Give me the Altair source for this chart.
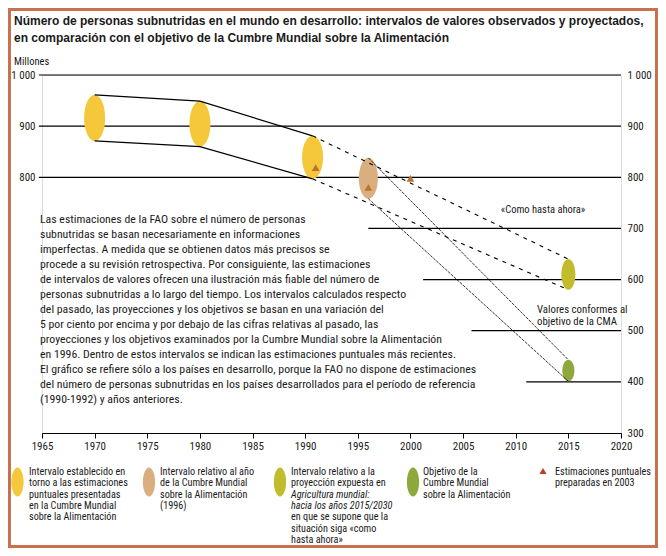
import altair as alt
import pandas as pd
import numpy as np

# ---------------- data ----------------
ELL_YEAR = [1970, 1980, 1990.7, 1996, 2015, 2015]
ELL_LOW = [871, 860, 797, 758, 580, 401]
ELL_HIGH = [961, 949, 881, 838, 640, 443]
ELL_KIND = ["wfs", "wfs", "wfs", "wfs1996", "proj", "target"]

TRI_YEAR = [1991, 1996, 2000]
TRI_VAL = [819, 780, 798]

GRID_VAL = [1000, 900, 800, 700, 600, 500, 400]
GRID_START = [1964.7, 1964.7, 1964.7, 1996, 2001.2, 2005.8, 2011]
GRID_END = [2020, 2020, 2020, 2020, 2020, 2020, 2020]

X_TICKS = list(range(1965, 2021, 5))
Y_LEFT_TICKS = [800, 900, 1000]
Y_RIGHT_TICKS = [300, 400, 500, 600, 700, 800, 900, 1000]

TITLE = ("Número de personas subnutridas en el mundo en desarrollo: intervalos de valores observados y proyectados,\n"
         "en comparación con el objetivo de la Cumbre Mundial sobre la Alimentación")
NOTE = "\n".join([
    "Las estimaciones de la FAO sobre el número de personas",
    "subnutridas se basan necesariamente en informaciones",
    "imperfectas. A medida que se obtienen datos más precisos se",
    "procede a su revisión retrospectiva. Por consiguiente, las estimaciones",
    "de intervalos de valores ofrecen una ilustración más fiable del número de",
    "personas subnutridas a lo largo del tiempo. Los intervalos calculados respecto",
    "del pasado, las proyecciones y los objetivos se basan en una variación del",
    "5 por ciento por encima y por debajo de las cifras relativas al pasado, las",
    "proyecciones y los objetivos examinados por la Cumbre Mundial sobre la Alimentación",
    "en 1996. Dentro de estos intervalos se indican las estimaciones puntuales más recientes.",
    "El gráfico se refiere sólo a los países en desarrollo, porque la FAO no dispone de estimaciones",
    "del número de personas subnutridas en los países desarrollados para el período de referencia",
    "(1990-1992) y años anteriores.",
])

LEGEND_KIND = ["wfs", "wfs1996", "proj", "target"]
LEGEND_TEXT = [
    "Intervalo establecido en\ntorno a las estimaciones\npuntuales presentadas\nen la Cumbre Mundial\nsobre la Alimentación",
    "Intervalo relativo al año\nde la Cumbre Mundial\nsobre la Alimentación\n(1996)",
    "Intervalo relativo a la\nproyección expuesta en",
    "Objetivo de la\nCumbre Mundial\nsobre la Alimentación",
]
LEGEND_PROJ_ITALIC = "Agricultura mundial:\nhacia los años 2015/2030"
LEGEND_PROJ_TAIL = "en que se supone que la\nsituación siga «como\nhasta ahora»"
LEGEND_TRI_TEXT = "Estimaciones puntuales\npreparadas en 2003"

# ---------------- styles ----------------
FONT = "'Liberation Sans Narrow', 'Roboto Condensed', 'Liberation Sans', sans-serif"
TITLE_FONT = "'Liberation Sans', Arial, sans-serif"
TXT = "#1a1a1a"
KIND_COLORS = {"wfs": "#f5c83c", "wfs1996": "#dbae80", "proj": "#c1bc2b", "target": "#8fa83b"}
HALF_W_PX = {"wfs": 10.5, "wfs1996": 9.5, "proj": 7, "target": 6}
TRI_COLOR = "#b9722f"
LEG_TRI_COLOR = "#c0392b"
FRAME = "#c8714f"

TOTAL_W, TOTAL_H = 650, 540
W, H = 579, 358
OX, OY = 42, 75  # plot origin in page px
PX_PER_YEAR = W / 55

xscale = alt.Scale(domain=[1965, 2020], nice=False, zero=False)
yscale = alt.Scale(domain=[300, 1000], nice=False, zero=False)
xaxis = alt.Axis(values=X_TICKS, format="d", tickSize=5, tickColor="black", domainColor="black",
                 domainWidth=1.2, tickWidth=1, grid=False, labelFont=FONT, labelFontSize=11,
                 labelColor=TXT, labelPadding=2, labelFlush=False, title=None, orient="bottom")
yaxis_left = alt.Axis(orient="left", values=Y_LEFT_TICKS,
                      labelExpr="datum.value >= 1000 ? '1 000' : datum.label",
                      ticks=False, domain=False, grid=False, labelPadding=7, title=None,
                      labelFont=FONT, labelFontSize=11, labelColor=TXT)
yaxis_right = alt.Axis(orient="right", values=Y_RIGHT_TICKS,
                       labelExpr="datum.value >= 1000 ? '1 000' : datum.label",
                       ticks=False, domain=False, grid=False, labelPadding=6, title=None,
                       labelFont=FONT, labelFontSize=11, labelColor=TXT)

color_scale = alt.Scale(domain=list(KIND_COLORS.keys()), range=list(KIND_COLORS.values()))

# grid rules
grid_df = pd.DataFrame({"val": GRID_VAL, "x0": GRID_START, "x1": GRID_END})
grid = alt.Chart(grid_df).mark_rule(color="black", strokeWidth=1.2).encode(
    x=alt.X("x0:Q", scale=xscale, axis=xaxis),
    x2="x1:Q",
    y=alt.Y("val:Q", scale=yscale, axis=yaxis_left),
)

# ellipses
rows = []
for i, (yr, lo, hi, k) in enumerate(zip(ELL_YEAR, ELL_LOW, ELL_HIGH, ELL_KIND)):
    rx = HALF_W_PX[k] / PX_PER_YEAR
    mid, hh = (lo + hi) / 2, (hi - lo) / 2
    for phi in np.linspace(-np.pi / 2, np.pi / 2, 61):
        rows.append({"id": i, "kind": k, "ex": yr + rx * np.sin(phi),
                     "ey": mid + hh * np.cos(phi), "ey2": mid - hh * np.cos(phi)})
ell_df = pd.DataFrame(rows)
ell = alt.Chart(ell_df).mark_area(opacity=1).encode(
    x=alt.X("ex:Q", scale=xscale, axis=xaxis),
    y=alt.Y("ey:Q", scale=yscale, axis=yaxis_left),
    y2="ey2:Q",
    color=alt.Color("kind:N", scale=color_scale, legend=None),
    detail="id:N",
)

# connecting lines built from the ellipse bounds
def seg(name, style, idx, bound):
    src = ELL_HIGH if bound == "hi" else ELL_LOW
    return [{"lid": name, "style": style, "year": ELL_YEAR[j], "v": src[j]} for j in idx]

line_rows = (seg("top", "solid", [0, 1, 2], "hi") + seg("bot", "solid", [0, 1, 2], "lo") +
             seg("ptop", "dash", [2, 4], "hi") + seg("pbot", "dash", [2, 4], "lo") +
             seg("ttop", "fine", [3, 5], "hi") + seg("tbot", "fine", [3, 5], "lo"))
line_df = pd.DataFrame(line_rows)

def line_layer(style, **kw):
    return alt.Chart(line_df).transform_filter(alt.datum.style == style).mark_line(color="black", **kw).encode(
        x=alt.X("year:Q", scale=xscale, axis=xaxis),
        y=alt.Y("v:Q", scale=yscale, axis=yaxis_left),
        detail="lid:N",
    )

solid = line_layer("solid", strokeWidth=1.2)
dash = line_layer("dash", strokeWidth=1.1, strokeDash=[4, 5])
fine = line_layer("fine", strokeWidth=0.8, strokeDash=[3, 1])

tri_df = pd.DataFrame({"year": TRI_YEAR, "v": TRI_VAL})
tris = alt.Chart(tri_df).mark_point(shape="triangle-up", filled=True, size=60, opacity=1,
                                    color=TRI_COLOR).encode(
    x=alt.X("year:Q", scale=xscale, axis=xaxis),
    y=alt.Y("v:Q", scale=yscale, axis=yaxis_left),
)


def txt(text, px, py, size=10, align="left", weight="normal", style="normal", lh=None, font=FONT):
    kw = {}
    if lh is not None:
        kw["lineHeight"] = lh
    return alt.Chart(pd.DataFrame({"t": [text]})).mark_text(
        align=align, baseline="top", fontSize=size, font=font, fontWeight=weight,
        fontStyle=style, color=TXT, lineBreak="\n", **kw
    ).encode(x=alt.value(px - OX), y=alt.value(py - OY), text="t:N")


texts = [
    txt(TITLE, 14, 22 - 0.47 * 12, size=12, weight="bold", lh=17, font=TITLE_FONT),
    txt("Millones", 14, 62 - 0.47 * 10.5, size=10.5),
    txt(NOTE, 40, 220 - 0.47 * 11.8, size=11.8, lh=15),
    txt("«Como hasta ahora»", 543, 210 - 0.47 * 10.5, size=10.5, align="center"),
    txt("Valores conformes al\nobjetivo de la CMA", 537, 309 - 0.47 * 10.8, size=10.8, lh=12),
]

LEG_ICON_X = [17.5, 149, 280, 413]
LEG_TEXT_X = [29, 160, 291, 423]
LEG_Y0 = 471.5
LEG_LH = 11.4
LEG_FS = 10.2
ELLIPSE_PATH = "M0,-1A0.42,1,0,1,1,0,1A0.42,1,0,1,1,0,-1Z"
legend_layers = []
one = pd.DataFrame({"a": [0]})
for k, ix, tx, t in zip(LEGEND_KIND, LEG_ICON_X, LEG_TEXT_X, LEGEND_TEXT):
    legend_layers.append(alt.Chart(one).mark_point(shape=ELLIPSE_PATH, filled=True, size=841, opacity=1,
                                                   color=KIND_COLORS[k]).encode(
        x=alt.value(ix - OX), y=alt.value(482 - OY)))
    legend_layers.append(txt(t, tx, LEG_Y0 - 0.47 * LEG_FS, size=LEG_FS, lh=LEG_LH))
legend_layers.append(txt(LEGEND_PROJ_ITALIC, 291, LEG_Y0 + 2 * LEG_LH - 0.47 * LEG_FS, size=LEG_FS,
                         lh=LEG_LH, style="italic"))
legend_layers.append(txt(LEGEND_PROJ_TAIL, 291, LEG_Y0 + 4 * LEG_LH - 0.47 * LEG_FS, size=LEG_FS, lh=LEG_LH))
legend_layers.append(alt.Chart(one).mark_point(shape="triangle-up", filled=True, size=50, opacity=1,
                                               color=LEG_TRI_COLOR).encode(
    x=alt.value(543 - OX), y=alt.value(471 - OY)))
legend_layers.append(txt(LEGEND_TRI_TEXT, 555, LEG_Y0 - 0.47 * LEG_FS, size=LEG_FS, lh=LEG_LH))

frame = alt.Chart(one).mark_rect(filled=False, stroke=FRAME, strokeWidth=3).encode(
    x=alt.value(9.5 - OX), x2=alt.value(8 + TOTAL_W - 1.5 - OX),
    y=alt.value(9.5 - OY), y2=alt.value(8 + TOTAL_H - 1.5 - OY))

main = alt.layer(grid, ell, solid, dash, fine, tris, *texts, *legend_layers, frame)

right = alt.Chart(grid_df).mark_rule(opacity=0).encode(
    y=alt.Y("val:Q", scale=yscale, axis=yaxis_right))

chart = alt.layer(main, right).resolve_scale(y="independent").properties(
    width=W, height=H,
    padding={"left": OX - 8, "top": OY - 8, "right": TOTAL_W - (OX - 8) - W,
             "bottom": TOTAL_H - (OY - 8) - H},
    autosize=alt.AutoSizeParams(type="none"),
).configure_view(stroke=None).configure(background="white")

chart.save("out.html", embed_options={"renderer": "svg", "actions": False})
